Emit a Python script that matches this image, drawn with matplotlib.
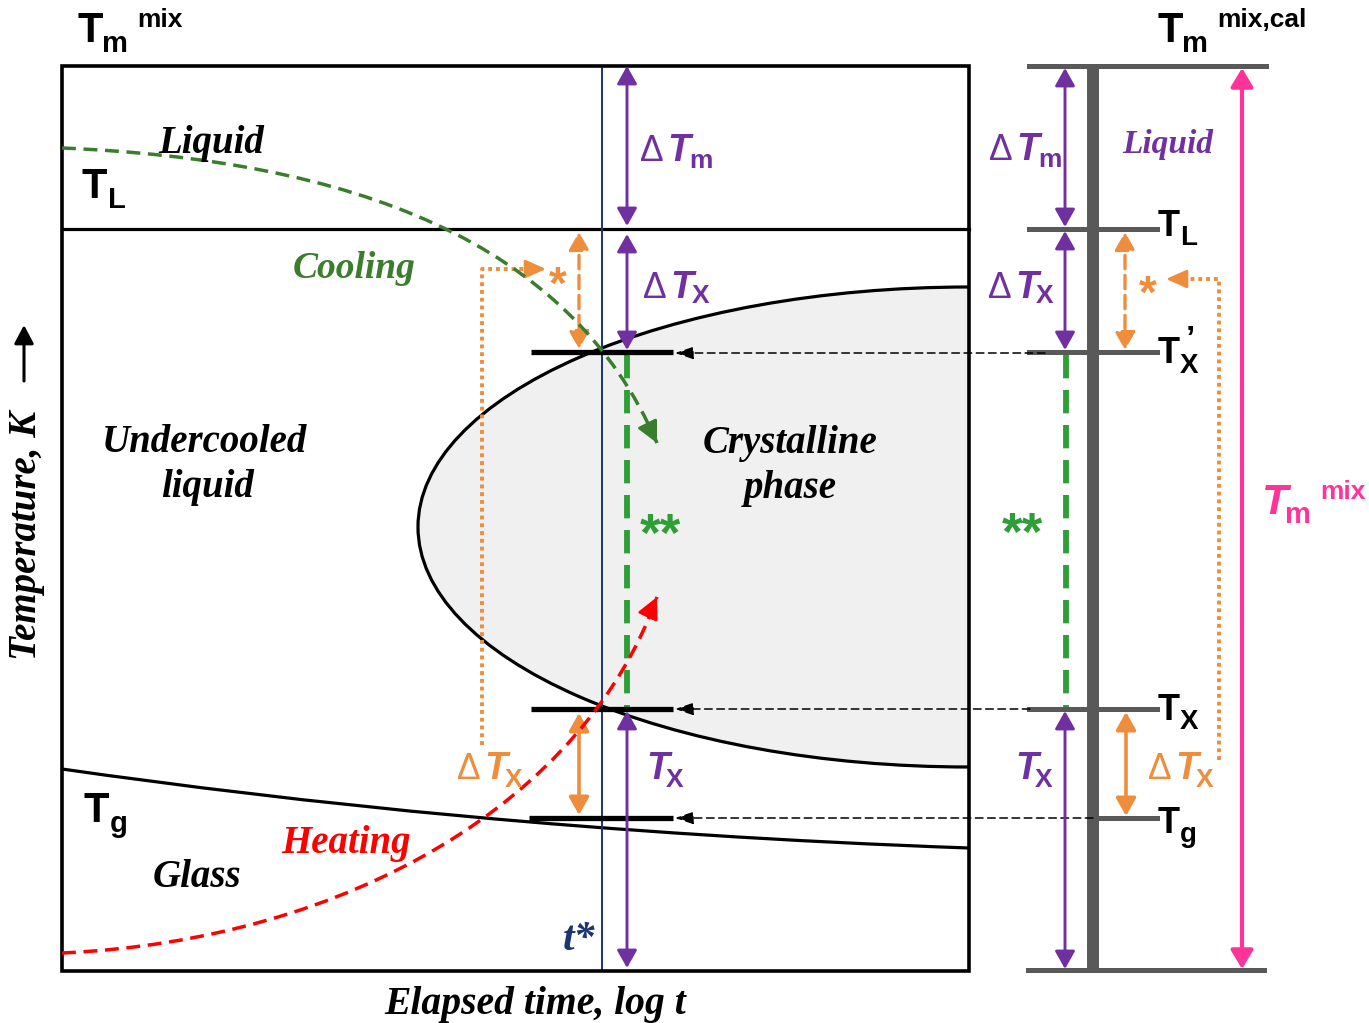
import matplotlib
matplotlib.use("Agg")
import matplotlib.pyplot as plt
from matplotlib.patches import Ellipse, Rectangle, PathPatch
from matplotlib.path import Path

SANS = "Liberation Sans"
SERIF = "Liberation Serif"

PURPLE = "#7030A0"
ORANGE = "#EE8E3C"
GREEN_DARK = "#3A7D2C"
GREEN = "#2E9E36"
RED = "#FF0000"
PINK = "#FF3399"
NAVY = "#1B3572"
GRAY = "#595959"

# === diagram geometry (pixel space, y grows downward = lower temperature) ===
t_start, t_end = 62, 969          # elapsed time range of the TTT box
t_star = 602                      # critical time t*
T_top, T_L, T_Xp, T_X, T_g, T_bot = 66, 229, 352, 709, 818, 971

# crystallisation nose
nose_center = (969, 527)
nose_half = (551, 240)

# glass transition line, cooling and heating paths (bezier control points)
glass_x = [62, 300, 600, 969]
glass_y = [769, 803, 835, 848]
cool_x = [62, 350, 570, 657]
cool_y = [148, 160, 240, 443]
heat_x = [62, 350, 585, 657]
heat_y = [953, 940, 800, 597]

# calibration column on the right
col_x = 1093
col_left, col_tick, col_long = 1029, 1157, 1266

# arrow positions
purple_x, orange_x = 627, 579
purple_x2, orange_x2, pink_x = 1065, 1125, 1242
dot_x1, dot_y1 = 482, 269
dot_x2, dot_y2 = 1219, 279
bar_x0, bar_x1 = 531, 673

fig = plt.figure(figsize=(13.69, 10.23), dpi=100)
ax = fig.add_axes([0, 0, 1, 1])
ax.set_xlim(0, 1369)
ax.set_ylim(1023, 0)
ax.axis("off")
rend = fig.canvas.get_renderer()


def bezier(xs, ys, **kw):
    p = Path(list(zip(xs, ys)), [Path.MOVETO, Path.CURVE4, Path.CURVE4, Path.CURVE4])
    patch = PathPatch(p, facecolor="none", **kw)
    ax.add_patch(patch)
    return patch


def arrow(x0, y0, x1, y1, color, lw, style="-|>", ls="-", hl=0.8, hw=0.45, ms=13.5, z=5):
    ax.annotate("", xy=(x1, y1), xytext=(x0, y0),
                arrowprops=dict(arrowstyle=f"{style},head_length={hl},head_width={hw}",
                                color=color, lw=lw, linestyle=ls, shrinkA=0, shrinkB=0,
                                mutation_scale=ms), zorder=z)


def sym(x, y, base, sub="", sup="", color="black", size=30, sub_size=21, sup_size=19,
        italic=False, delta=False, sub_drop=9, sup_rise=-14, sup_gap=9, sub_back=0):
    cx = x
    if delta:
        t = ax.text(cx, y, "\u0394", fontsize=size * 0.95, family=SANS, color=color,
                    va="baseline", zorder=8)
        cx += t.get_window_extent(rend).width + 4
    t = ax.text(cx, y, base, fontsize=size, family=SANS, weight="bold",
                style="italic" if italic else "normal", color=color, va="baseline", zorder=8)
    cx += t.get_window_extent(rend).width - sub_back
    if sub:
        t = ax.text(cx, y + sub_drop, sub, fontsize=sub_size, family=SANS, weight="bold",
                    color=color, va="baseline", zorder=8)
        cx += t.get_window_extent(rend).width
    if sup:
        ax.text(cx + sup_gap, y + sup_rise, sup, fontsize=sup_size, family=SANS, weight="bold",
                color=color, va="baseline", zorder=8)


def serif(x, y, s, color="black", size=28, ha="center"):
    ax.text(x, y, s, fontsize=size, family=SERIF, weight="bold", style="italic", color=color,
            ha=ha, va="baseline", zorder=8)


# crystalline region
box = Rectangle((t_start, T_top), t_end - t_start, T_bot - T_top, transform=ax.transData)
nose = Ellipse(nose_center, 2 * nose_half[0], 2 * nose_half[1], facecolor="#F0F0F0",
               edgecolor="black", lw=2.3, zorder=1)
ax.add_patch(nose)
nose.set_clip_path(box)

# box, liquidus, glass line, t*
ax.add_patch(Rectangle((t_start, T_top), t_end - t_start, T_bot - T_top, fill=False,
                       edgecolor="black", lw=2.6, zorder=4))
ax.plot([t_start, t_end], [T_L, T_L], color="black", lw=2.3, zorder=3)
bezier(glass_x, glass_y, edgecolor="black", lw=2.3, zorder=3)
ax.plot([t_star, t_star], [T_top, T_bot], color=NAVY, lw=1.4, zorder=3)

# level bars
for lvl, x0 in [(T_Xp, bar_x0), (T_X, bar_x0), (T_g, bar_x0 - 2)]:
    ax.plot([x0, bar_x1], [lvl, lvl], color="black", lw=3.8, zorder=5, solid_capstyle="butt")

# cooling / heating paths
bezier(cool_x, cool_y, edgecolor=GREEN_DARK, lw=2.5, linestyle=(0, (4, 2.2)), zorder=6)
arrow(649, 427, cool_x[-1], cool_y[-1], GREEN_DARK, 2.0, ms=13, hl=1.0, hw=0.5, z=6)
bezier(heat_x, heat_y, edgecolor=RED, lw=2.5, linestyle=(0, (4, 2.2)), zorder=6)
arrow(649, 614, heat_x[-1], heat_y[-1], RED, 2.0, ms=13, hl=1.0, hw=0.5, z=6)

# left purple arrows and green ** segment
arrow(purple_x, T_top, purple_x, T_L - 3, PURPLE, 2.1, style="<|-|>")
arrow(purple_x, T_L + 5, purple_x, T_Xp - 2, PURPLE, 2.1, style="<|-|>")
arrow(purple_x, T_X + 2, purple_x, T_bot - 3, PURPLE, 2.1, style="<|-|>")
ax.plot([purple_x, purple_x], [T_Xp + 3, T_X - 2], color=GREEN, lw=4.2,
        linestyle=(0, (4, 2)), zorder=4)

# left orange arrows and dotted guide
arrow(orange_x, T_L + 3, orange_x, T_Xp - 3, ORANGE, 2.4, style="<|-|>", ls=(0, (4, 2)))
arrow(orange_x, T_X + 4, orange_x, T_g - 3, ORANGE, 2.6, style="<|-|>")
ax.plot([dot_x1, dot_x1, 532], [745, dot_y1, dot_y1], color=ORANGE, lw=2.8,
        linestyle=(0, (1, 1)), zorder=4)
arrow(526, dot_y1, 546, dot_y1, ORANGE, 2.0, ms=14, hl=0.9, hw=0.4)

# dashed guide arrows from the calibration column
arrow(1045, T_Xp + 1, bar_x1 + 2, T_Xp + 1, "black", 1.1, ls=(0, (5, 3)), ms=14, hl=0.8, hw=0.27)
arrow(1030, T_X, bar_x1 + 2, T_X, "black", 1.1, ls=(0, (5, 3)), ms=14, hl=0.8, hw=0.27)
arrow(col_x, T_g, bar_x1 + 2, T_g, "black", 1.1, ls=(0, (5, 3)), ms=14, hl=0.8, hw=0.27)

# calibration column
ax.plot([col_x, col_x], [T_top, T_bot], color=GRAY, lw=8.6, zorder=3, solid_capstyle="butt")
ax.plot([col_left, col_long], [T_top, T_top], color=GRAY, lw=3.6, zorder=3)
ax.plot([col_left - 1, col_long - 2], [T_bot - 1, T_bot - 1], color=GRAY, lw=3.6, zorder=3)
for lvl in [T_L, T_Xp, T_X]:
    ax.plot([col_left, col_tick], [lvl, lvl], color=GRAY, lw=3.6, zorder=3)
ax.plot([col_x + 4, col_tick], [T_g, T_g], color=GRAY, lw=3.6, zorder=3)

arrow(purple_x2, T_top + 2, purple_x2, T_L - 2, PURPLE, 2.1, style="<|-|>")
arrow(purple_x2, T_L + 2, purple_x2, T_Xp - 2, PURPLE, 2.1, style="<|-|>")
arrow(purple_x2, T_X + 2, purple_x2, T_bot - 2, PURPLE, 2.1, style="<|-|>")
ax.plot([purple_x2 + 1, purple_x2 + 1], [T_Xp + 3, T_X - 2], color=GREEN, lw=4.2,
        linestyle=(0, (4, 2)), zorder=4)
arrow(orange_x2, T_L + 3, orange_x2, T_Xp - 2, ORANGE, 2.4, style="<|-|>", ls=(0, (4, 2)))
arrow(orange_x2 + 1, T_X + 3, orange_x2 + 1, T_g - 2, ORANGE, 2.6, style="<|-|>")
ax.plot([dot_x2, dot_x2, 1178], [760, dot_y2, dot_y2], color=ORANGE, lw=2.8,
        linestyle=(0, (1, 1)), zorder=4)
arrow(1184, dot_y2, 1166, dot_y2, ORANGE, 2.0, ms=14, hl=0.9, hw=0.4)
arrow(pink_x, T_top + 2, pink_x, T_bot - 2, PINK, 3.0, style="<|-|>", ms=15, hl=0.75, hw=0.45)

# y-axis arrow
arrow(24, 381, 24, 325, "black", 2.2, ms=14, hl=0.8, hw=0.42)

# === texts ===
sym(77, 42, "T", sub="m", sup="mix", sub_drop=10, sup_rise=-15)
sym(82, 198, "T", sub="L", sub_drop=10)
sym(84, 822, "T", sub="g", sub_drop=10)
sym(1157, 42, "T", sub="m", sup="mix,cal", sub_drop=10, sup_rise=-15)
sym(1158, 236, "T", sub="L", size=26, sub_size=20, sub_drop=9)
sym(1158, 363, "T", sub="X", size=26, sub_size=20, sub_drop=10)
ax.text(1186, 349, "\u2019", fontsize=24, family=SANS, weight="bold", va="baseline", zorder=8)
sym(1158, 720, "T", sub="X", size=26, sub_size=20, sub_drop=9)
sym(1158, 833, "T", sub="g", size=26, sub_size=20, sub_drop=9)

sym(640, 161, "T", sub="m", color=PURPLE, size=27, sub_size=19, italic=True, delta=True,
    sub_drop=7, sub_back=1)
sym(643, 298, "T", sub="X", color=PURPLE, size=27, sub_size=19, italic=True, delta=True,
    sub_drop=5, sub_back=2)
sym(646, 779, "T", sub="X", color=PURPLE, size=27, sub_size=19, italic=True, sub_drop=8,
    sub_back=3)
sym(989, 160, "T", sub="m", color=PURPLE, size=27, sub_size=19, italic=True, delta=True,
    sub_drop=7, sub_back=1)
sym(988, 298, "T", sub="X", color=PURPLE, size=27, sub_size=19, italic=True, delta=True,
    sub_drop=5, sub_back=3)
sym(1015, 779, "T", sub="X", color=PURPLE, size=27, sub_size=19, italic=True, sub_drop=8,
    sub_back=3)
sym(457, 779, "T", sub="X", color=ORANGE, size=27, sub_size=19, italic=True, delta=True,
    sub_drop=8, sub_back=3)
sym(1148, 779, "T", sub="X", color=ORANGE, size=27, sub_size=19, italic=True, delta=True,
    sub_drop=8, sub_back=3)
sym(1262, 514, "T", sub="m", sup="mix", color=PINK, size=31, sub_size=21, sup_size=19,
    italic=True, sub_drop=9, sup_rise=-15, sub_back=3)

ax.text(558, 299, "*", fontsize=33, family=SANS, weight="bold", color=ORANGE, ha="center",
        va="baseline", zorder=8)
ax.text(1148, 308, "*", fontsize=33, family=SANS, weight="bold", color=ORANGE, ha="center",
        va="baseline", zorder=8)
ax.text(660, 551, "**", fontsize=38, family=SANS, weight="bold", color=GREEN, ha="center",
        va="baseline", zorder=8)
ax.text(1022, 550, "**", fontsize=38, family=SANS, weight="bold", color=GREEN, ha="center",
        va="baseline", zorder=8)

serif(211, 153, "Liquid")
serif(354, 278, "Cooling", color=GREEN_DARK, size=27)
serif(205, 452, "Undercooled")
serif(208, 497, "liquid")
serif(790, 453, "Crystalline")
serif(790, 498, "phase")
serif(346, 853, "Heating", color=RED)
serif(197, 887, "Glass")
serif(579, 950, "t*", color=NAVY, size=30)
serif(535, 1014, "Elapsed time, log t", size=28.5)
serif(1168, 153, "Liquid", color=PURPLE, size=24)
ax.text(27, 535, "Temperature, K", fontsize=28, family=SERIF, weight="bold", style="italic",
        rotation=90, ha="center", va="center", zorder=8)

fig.savefig("out.png", dpi=100)
